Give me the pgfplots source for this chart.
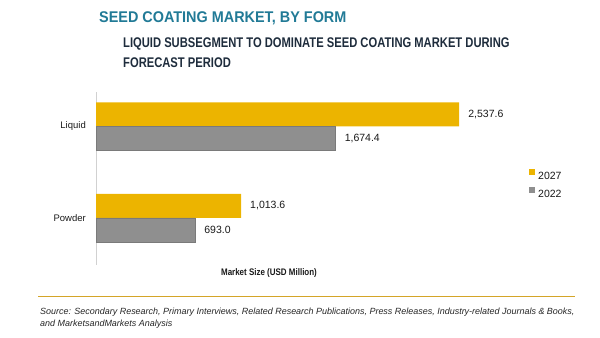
\documentclass[border=0pt]{standalone}
\usepackage{pgfplots}
\pgfplotsset{compat=1.18}
\usepackage{fontspec}
\setmainfont{Liberation Sans}
\newfontfamily\titlefont[FakeStretch=0.93]{Liberation Sans}
\newfontfamily\subfont[FakeStretch=0.80]{Liberation Sans}
\newfontfamily\labfont[FakeStretch=0.84]{Liberation Sans}
\definecolor{barY}{RGB}{236,180,0}
\definecolor{barG}{RGB}{143,143,143}
\definecolor{teal1}{RGB}{33,122,150}
\definecolor{navy1}{RGB}{30,44,60}
\definecolor{gold1}{RGB}{212,165,40}
\begin{document}
\begin{tikzpicture}
\useasboundingbox (0,0) rectangle (600bp,338bp);
\node[anchor=base west, inner sep=0, text=teal1, font=\titlefont\bfseries\fontsize{15.5bp}{18bp}\selectfont] at (99bp,315.5bp) {SEED COATING MARKET, BY FORM};
\node[anchor=base west, inner sep=0, text=navy1, font=\subfont\bfseries\fontsize{14bp}{16bp}\selectfont] at (123bp,290bp) {LIQUID SUBSEGMENT TO DOMINATE SEED COATING MARKET DURING};
\node[anchor=base west, inner sep=0, text=navy1, font=\subfont\bfseries\fontsize{14bp}{16bp}\selectfont] at (123bp,270bp) {FORECAST PERIOD};
\begin{axis}[
  at={(96bp,73bp)}, anchor=south west,
  scale only axis, width=429.3bp, height=173bp,
  xmin=0, xmax=3000, ymin=-0.514, ymax=1.377,
  xbar, bar width=24bp,
  axis lines*=left,
  x axis line style={draw=none},
  y axis line style={-, draw=black!18, line width=1bp},
  xtick=\empty,
  ytick={0,1}, yticklabels={Powder,Liquid},
  major tick length=0pt,
  yticklabel style={font=\fontsize{9.5bp}{11bp}\selectfont, text=black!90, inner sep=0pt, xshift=-10bp},
  xlabel={Market Size (USD Million)},
  xlabel style={at={(axis description cs:0.403,-0.045)}, anchor=center, font=\labfont\bfseries\fontsize{9.5bp}{11bp}\selectfont, text=black!90},
  point meta=x,
  nodes near coords={\pgfmathprintnumber[fixed,fixed zerofill,precision=1,1000 sep={,},assume math mode=true]{\pgfplotspointmeta}},
  nodes near coords align=horizontal,
  every node near coord/.append style={font=\fontsize{10.5bp}{12bp}\selectfont, text=black!90, inner sep=0pt, xshift=9bp, anchor=west},
  legend image code/.code={\fill[#1,draw=none] (0bp,0.8bp) rectangle (6bp,6.8bp);},
  legend style={draw=none, fill=none, inner sep=0pt, at={(axis description cs:1.0086,0.556)}, anchor=north west,
    font=\fontsize{10.5bp}{12bp}\selectfont, text=black!90,
    nodes={inner sep=0pt, text height=8bp, text depth=0bp}, row sep=7bp, column sep=3bp},
  legend cell align=left,
]
\addplot[fill=barY, draw=none, bar shift=12bp] coordinates {(2537.6,1) (1013.6,0)};
\addplot[fill=barG, draw=barG!85!black, bar shift=-12bp] coordinates {(1674.4,1) (693.0,0)};
\legend{2027,2022}
\end{axis}
\draw[gold1, line width=1bp] (38bp,41bp) -- (575bp,41bp);
\node[anchor=base west, inner sep=0, text=black!85, font=\itshape\fontsize{8.97bp}{11bp}\selectfont] at (40bp,23.5bp) {Source: Secondary Research, Primary Interviews, Related Research Publications, Press Releases, Industry-related Journals \& Books,};
\node[anchor=base west, inner sep=0, text=black!85, font=\itshape\fontsize{8.97bp}{11bp}\selectfont] at (40bp,11.5bp) {and MarketsandMarkets Analysis};
\end{tikzpicture}
\end{document}
